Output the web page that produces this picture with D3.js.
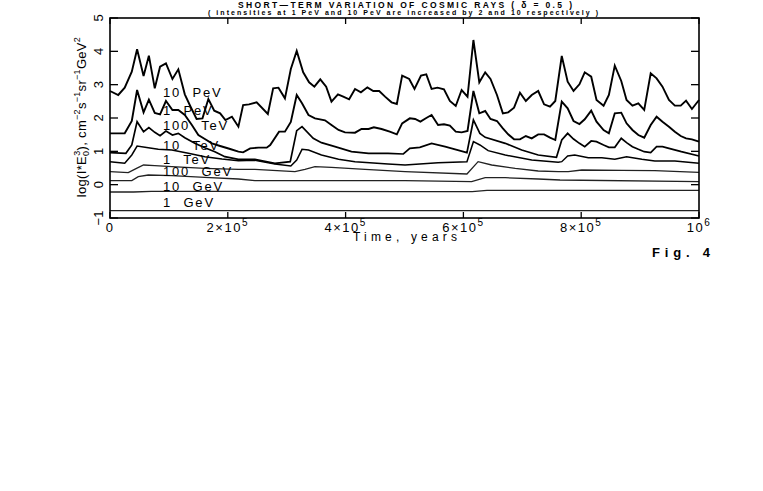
<!DOCTYPE html>
<head>
<meta charset="utf-8">
<style>
body { margin: 0; background: #fff; }
svg { display: block; background: #fff; }
text { font-family: "Liberation Sans", Arial, sans-serif; fill: #000; }
.frame { fill: none; stroke: #000; stroke-width: 1.6px; }
.tick { stroke: #000; stroke-width: 1.3px; }
.curve { fill: none; stroke: #000; stroke-linejoin: miter; }
.elabel { font-size: 13px; letter-spacing: 1.8px; word-spacing: 6px; }
.xtick { font-size: 13px; letter-spacing: 1.5px; }
.ytick { font-size: 13px; }
</style>
</head>
<body>
<svg width="763" height="491"></svg>
<script src="https://cdnjs.cloudflare.com/ajax/libs/d3/7.8.5/d3.min.js"></script>
<script>
// time in 10^3 years, value = log10 of intensity*E^3
var pev10 = [[0,2.81],[14,2.69],[25,2.91],[37,3.39],[46,4.06],[57,3.26],[66,3.87],[76,2.89],[85,3.54],[95,3.64],[106,3.17],[116,3.46],[127,2.71],[137,2.33],[147,1.97],[157,1.99],[167,2.57],[177,2.22],[187,2.14],[196,1.94],[207,2.04],[218,1.74],[226,2.39],[236,2.41],[249,2.47],[268,2.12],[277,2.89],[286,2.91],[297,2.59],[307,3.47],[317,4.01],[328,3.37],[338,3.07],[347,2.94],[357,3.16],[367,2.94],[376,2.49],[387,2.71],[396,2.64],[406,2.56],[416,2.87],[426,2.77],[437,2.92],[447,2.81],[457,2.81],[467,2.64],[478,2.47],[487,2.42],[496,3.27],[508,3.17],[517,2.87],[528,3.27],[537,3.31],[546,2.87],[556,2.91],[567,2.86],[577,2.51],[587,2.36],[597,2.84],[607,2.64],[617,4.34],[627,3.07],[637,3.37],[646,3.17],[657,2.69],[667,2.14],[676,2.17],[686,2.31],[696,2.76],[706,2.51],[716,2.69],[727,2.81],[737,2.41],[747,2.34],[756,2.51],[767,3.86],[777,3.09],[787,2.81],[797,3.01],[806,3.37],[817,3.24],[826,2.54],[838,2.37],[847,2.69],[857,3.57],[868,3.11],[877,2.54],[887,2.37],[897,2.44],[907,2.24],[918,3.34],[928,3.19],[938,2.94],[949,2.54],[959,2.37],[969,2.37],[978,2.52],[988,2.27],[1000,2.54]];
var pev1 = [[0,1.54],[25,1.54],[37,1.91],[46,2.84],[57,2.17],[66,2.55],[76,2.15],[85,2.11],[95,2.51],[106,2.24],[116,2.24],[127,2.09],[139,1.79],[150,1.49],[161,1.37],[173,1.24],[187,1.16],[204,1.07],[218,0.99],[226,0.97],[238,1.09],[252,1.11],[266,1.11],[272,1.19],[287,1.59],[297,1.59],[307,1.88],[317,2.69],[326,2.44],[337,2.09],[348,1.99],[365,1.93],[376,1.79],[388,1.64],[399,1.57],[416,1.56],[427,1.67],[439,1.67],[448,1.72],[461,1.67],[475,1.59],[487,1.51],[496,1.84],[509,1.99],[518,1.97],[527,1.89],[537,2.0],[546,2.09],[557,1.79],[567,1.81],[577,1.77],[587,1.59],[597,1.57],[607,1.61],[617,2.81],[627,2.14],[637,2.21],[646,1.97],[657,1.91],[667,1.69],[676,1.51],[686,1.36],[696,1.36],[706,1.46],[716,1.39],[727,1.51],[737,1.51],[747,1.41],[756,1.34],[767,2.49],[777,2.29],[787,1.91],[797,1.82],[806,1.96],[817,2.22],[826,1.89],[838,1.64],[847,1.54],[857,2.14],[868,2.16],[877,1.84],[887,1.64],[897,1.49],[907,1.41],[918,1.79],[928,2.04],[938,1.89],[949,1.74],[959,1.59],[969,1.46],[978,1.39],[988,1.36],[1000,1.29]];
var tev100 = [[0,0.96],[27,0.94],[37,1.19],[46,1.89],[57,1.59],[66,1.71],[76,1.57],[85,1.47],[95,1.61],[106,1.49],[116,1.54],[127,1.41],[144,1.24],[161,1.11],[178,0.99],[195,0.84],[218,0.76],[246,0.76],[280,0.64],[306,0.69],[317,1.62],[326,1.74],[345,1.39],[359,1.26],[382,1.14],[410,0.99],[439,0.94],[472,0.94],[498,0.92],[509,1.09],[526,1.12],[546,1.24],[569,1.14],[606,0.96],[617,1.94],[628,1.54],[637,1.42],[671,1.24],[699,1.04],[727,0.89],[758,0.82],[767,1.34],[777,1.54],[787,1.37],[797,1.24],[806,1.14],[817,1.31],[826,1.29],[838,1.19],[847,1.12],[857,1.12],[868,1.39],[877,1.26],[887,1.14],[897,1.06],[907,0.99],[918,0.96],[928,1.14],[938,1.14],[949,1.09],[970,0.99],[1000,0.86]];
var tev10 = [[0,0.69],[25,0.64],[37,0.89],[46,1.16],[65,1.11],[82,1.06],[105,1.04],[133,0.94],[161,0.84],[190,0.77],[218,0.72],[246,0.73],[280,0.62],[307,0.56],[317,0.74],[326,1.06],[337,1.04],[359,0.89],[388,0.76],[416,0.69],[472,0.62],[501,0.59],[557,0.66],[606,0.69],[617,1.29],[628,1.19],[642,1.02],[671,0.89],[716,0.74],[761,0.67],[767,0.69],[777,0.86],[789,0.89],[812,0.81],[835,0.81],[857,0.76],[877,0.84],[903,0.76],[925,0.71],[959,0.71],[1000,0.64]];
var tev1 = [[0,0.39],[31,0.36],[45,0.49],[57,0.59],[76,0.57],[105,0.54],[161,0.49],[218,0.46],[246,0.46],[314,0.39],[331,0.46],[348,0.54],[376,0.52],[433,0.46],[501,0.39],[606,0.32],[625,0.69],[648,0.59],[688,0.49],[727,0.41],[761,0.39],[778,0.39],[801,0.44],[869,0.43],[925,0.42],[1000,0.37]];
var gev100 = [[0,0.12],[37,0.12],[48,0.24],[65,0.29],[105,0.27],[161,0.22],[218,0.17],[246,0.12],[501,0.12],[614,0.09],[637,0.21],[671,0.21],[727,0.17],[764,0.14],[1000,0.09]];
var gev10 = [[0,-0.22],[40,-0.22],[70,-0.2],[246,-0.2],[500,-0.21],[615,-0.21],[640,-0.17],[1000,-0.17]];
var gev1 = [[0,-0.78],[1000,-0.78]];

var names = ["10 PeV", "1 PeV", "100 TeV", "10 TeV", "1 TeV", "100 GeV", "10 GeV", "1 GeV"];
var curves = [pev10, pev1, tev100, tev10, tev1, gev100, gev10, gev1];
var labelPos = [2.77, 2.24, 1.79, 1.19, 0.77, 0.39, -0.04, -0.53]; // label heights, same units as values
var widths = [1.9, 1.9, 1.7, 1.5, 1.3, 1.3, 1.3, 1.3];

var xTicks = [0, 2e5, 4e5, 6e5, 8e5, 1e6];
var xTickText = [["0", ""], ["2\u00d710", "5"], ["4\u00d710", "5"], ["6\u00d710", "5"], ["8\u00d710", "5"], ["10", "6"]];
var yTicks = [-1, 0, 1, 2, 3, 4, 5];

var svg = d3.select("svg");
var plotL = 110, plotR = 699, plotT = 18, plotB = 218;

var x = d3.scaleLinear().domain([0, 1e6]).range([plotL, plotR]);
var y = d3.scaleLinear().domain([-1, 5]).range([plotB, plotT]);

var line = d3.line()
    .x(function(d) { return x(d[0] * 1000); })
    .y(function(d) { return y(d[1]); });

// curves
svg.append("g").selectAll("path")
    .data(curves)
  .enter().append("path")
    .attr("class", "curve")
    .attr("d", line)
    .style("stroke-width", function(d, i) { return widths[i] + "px"; })
    .style("stroke", function(d, i) { return i > 3 ? "#222" : "#000"; });

// frame + ticks (ticks point inward)
svg.append("rect").attr("class", "frame")
    .attr("x", plotL).attr("y", plotT).attr("width", plotR - plotL).attr("height", plotB - plotT);

var tk = svg.append("g");
yTicks.forEach(function(v) {
  tk.append("line").attr("class", "tick").attr("x1", plotL).attr("x2", plotL + 8).attr("y1", y(v)).attr("y2", y(v));
  tk.append("line").attr("class", "tick").attr("x1", plotR).attr("x2", plotR - 8).attr("y1", y(v)).attr("y2", y(v));
});
xTicks.forEach(function(t) {
  tk.append("line").attr("class", "tick").attr("x1", x(t)).attr("x2", x(t)).attr("y1", plotB).attr("y2", plotB - 6);
  tk.append("line").attr("class", "tick").attr("x1", x(t)).attr("x2", x(t)).attr("y1", plotT).attr("y2", plotT + 6);
});

// y tick labels, rotated like the original
yTicks.forEach(function(v) {
  svg.append("text").attr("class", "ytick")
      .attr("transform", "translate(103," + y(v) + ") rotate(-90)")
      .attr("text-anchor", "middle")
      .text(v < 0 ? "\u2212" + Math.abs(v) : v);
});

// x tick labels with exponents
xTicks.forEach(function(t, i) {
  var tx = svg.append("text").attr("class", "xtick")
      .attr("x", x(t)).attr("y", 232)
      .attr("text-anchor", "middle");
  tx.append("tspan").text(xTickText[i][0]);
  if (xTickText[i][1]) tx.append("tspan").attr("dy", -6).style("font-size", "10px").text(xTickText[i][1]);
});

svg.append("text").attr("x", 405).attr("y", 241).attr("text-anchor", "middle")
    .attr("textLength", 104).attr("lengthAdjust", "spacing")
    .style("font-size", "12px").text("Time, years");

// y axis title
var yl = svg.append("text")
    .attr("transform", "translate(86,117) rotate(-90)")
    .attr("text-anchor", "middle")
    .style("font-size", "13px").style("letter-spacing", "0.3px");
yl.append("tspan").text("log(I*E");
yl.append("tspan").attr("dy", 3).style("font-size", "9px").text("0");
yl.append("tspan").attr("dy", -9).attr("dx", -5).style("font-size", "9px").text("3");
yl.append("tspan").attr("dy", 6).text("), cm");
yl.append("tspan").attr("dy", -6).style("font-size", "9px").text("\u22122");
yl.append("tspan").attr("dy", 6).text("s");
yl.append("tspan").attr("dy", -6).style("font-size", "9px").text("\u22121");
yl.append("tspan").attr("dy", 6).text("sr");
yl.append("tspan").attr("dy", -6).style("font-size", "9px").text("\u22121");
yl.append("tspan").attr("dy", 6).text("GeV");
yl.append("tspan").attr("dy", -6).style("font-size", "9px").text("2");

// energy labels
svg.append("g").selectAll("text")
    .data(names)
  .enter().append("text")
    .attr("class", "elabel")
    .attr("x", x(90000))
    .attr("y", function(d, i) { return y(labelPos[i]); })
    .attr("dy", "0.36em")
    .text(function(d) { return d; });

// titles
svg.append("text").attr("x", 405).attr("y", 7.5).attr("text-anchor", "middle")
    .attr("textLength", 334).attr("lengthAdjust", "spacing")
    .style("font-size", "8.5px").style("font-weight", "bold")
    .text("SHORT\u2014TERM VARIATION OF COSMIC RAYS ( \u03b4 = 0.5 )");
svg.append("text").attr("x", 403).attr("y", 15).attr("text-anchor", "middle")
    .attr("textLength", 390).attr("lengthAdjust", "spacing")
    .style("font-size", "7px").style("font-weight", "bold")
    .text("( intensities  at 1 PeV and 10 PeV are increased by 2 and 10 respectively )");

svg.append("text").attr("x", 652).attr("y", 257)
    .attr("textLength", 58).attr("lengthAdjust", "spacing")
    .style("font-size", "13px").style("font-weight", "bold")
    .text("Fig. 4");
</script>
</body>
